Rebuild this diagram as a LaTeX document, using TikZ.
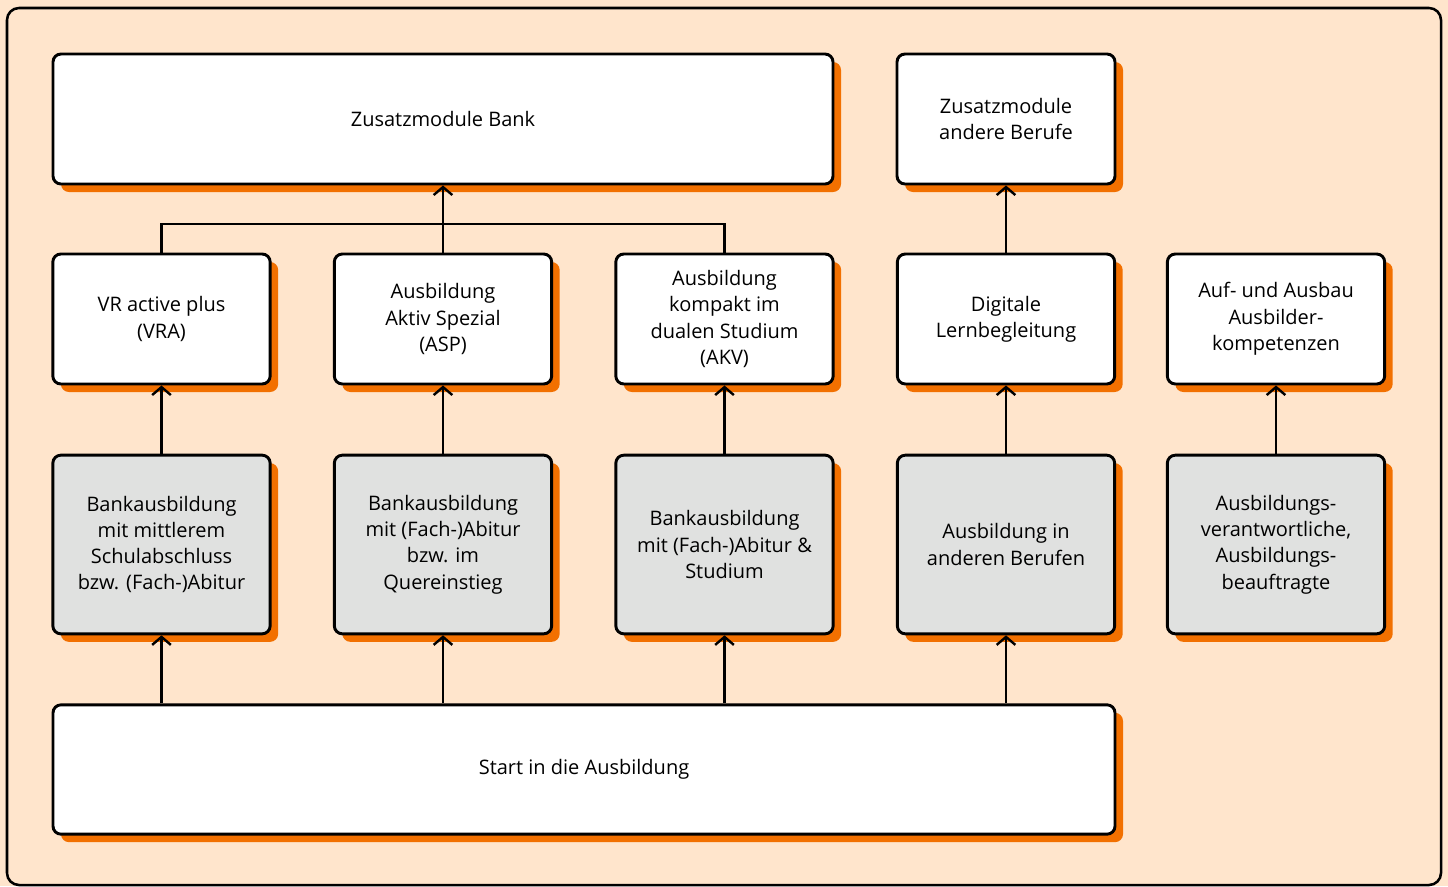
\documentclass[tikz,border=0pt]{standalone}
\usepackage{fontspec}
\setmainfont{Open Sans}
\usetikzlibrary{arrows.meta,shadows}
\definecolor{peach}{HTML}{FFE5CC}
\definecolor{shade}{HTML}{F27000}
\definecolor{greybox}{HTML}{E0E1E0}
\tikzset{
  box/.style={draw, line width=2.2pt, rounded corners=6pt, fill=white, align=center, inner sep=0pt,
    font=\fontsize{15pt}{19.7pt}\selectfont,
    drop shadow={shadow xshift=6pt, shadow yshift=-6pt, fill=shade, opacity=1}},
  gbox/.style={box, fill=greybox},
  smallbox/.style={minimum width=163pt, minimum height=97.5pt},
  tallbox/.style={minimum width=163pt, minimum height=134pt},
  conn/.style={line width=1.8pt},
  arr/.style={conn, -{Straight Barb[length=6pt, width=14pt, line width=1.8pt]}},
}
\begin{document}
\begin{tikzpicture}[x=0.75pt, y=-0.75pt]
\useasboundingbox (0,0) rectangle (1448,886);
\fill[peach] (0,0) rectangle (1448,886);
\draw[line width=1.9pt, rounded corners=9pt] (7,8) rectangle (1441,885);

\node[box, minimum width=585pt, minimum height=97.5pt] (bank) at (443,119) {Zusatzmodule Bank};
\node[box, minimum width=163.5pt, minimum height=97.5pt] (andere) at (1006,119) {Zusatzmodule\\andere Berufe};

\node[box, smallbox] (vra) at (161.5,319) {VR active plus\\(VRA)};
\node[box, smallbox] (asp) at (443,319) {Ausbildung\\Aktiv Spezial\\(ASP)};
\node[box, smallbox] (akv) at (724.5,319) {Ausbildung\\kompakt im\\dualen Studium\\(AKV)};
\node[box, smallbox] (dig) at (1006,319) {Digitale\\Lernbegleitung};
\node[box, smallbox] (auf) at (1276,319) {Auf- und Ausbau\\Ausbilder-\\kompetenzen};

\node[gbox, tallbox] (b1) at (161.5,544.5) {Bankausbildung\\mit mittlerem\\Schulabschluss\\bzw. (Fach-)Abitur};
\node[gbox, tallbox] (b2) at (443,544.5) {Bankausbildung\\mit (Fach-)Abitur\\bzw. im\\Quereinstieg};
\node[gbox, tallbox] (b3) at (724.5,544.5) {Bankausbildung\\mit (Fach-)Abitur \&\\Studium};
\node[gbox, tallbox] (b4) at (1006,544.5) {Ausbildung in\\anderen Berufen};
\node[gbox, tallbox] (b5) at (1276,544.5) {Ausbildungs-\\verantwortliche,\\Ausbildungs-\\beauftragte};

\node[box, minimum width=796.5pt, minimum height=97pt] (start) at (584,769.5) {Start in die Ausbildung};

\coordinate (j) at (443,224);
\draw[conn] (vra.north) |- (j) -| (akv.north);
\draw[arr] (asp.north) -- (bank.south);
\draw[arr] (dig.north) -- (andere.south);

\foreach \u/\o in {b1/vra, b2/asp, b3/akv, b4/dig, b5/auf}
  \draw[arr] (\u.north) -- (\o.south);

\foreach \u in {b1, b2, b3, b4}
  \draw[arr] (start.north -| \u.south) -- (\u.south);
\end{tikzpicture}
\end{document}
